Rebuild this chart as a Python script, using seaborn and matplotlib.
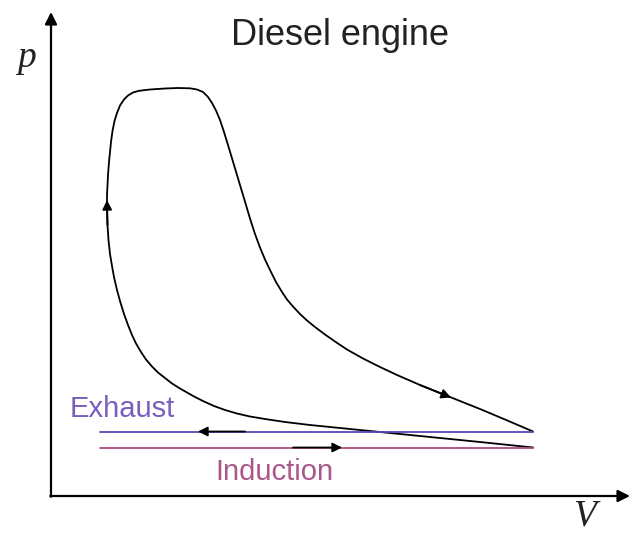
import matplotlib
matplotlib.use("Agg")
import matplotlib.pyplot as plt
import seaborn as sns
import pandas as pd

# cycle (arbitrary units), starting at the end of induction,
# compression up the left side, combustion across the top, expansion down the right
cycle_V = [48.2, 42.9, 37.9, 32.9, 28.9, 25.9, 23.4, 21.4, 19.9, 18.6, 17.4, 16.3, 15.3, 14.4,
           13.6, 12.9, 12.1, 11.4, 10.7, 10.1, 9.5, 9.0, 8.5, 8.1, 7.7, 7.3, 6.9, 6.6, 6.3,
           6.1, 5.9, 5.75, 5.65, 5.6, 5.6, 5.65, 5.7, 5.8, 5.9, 6.0, 6.15, 6.35, 6.6, 6.9,
           7.3, 7.7, 8.2, 8.8, 9.9, 11.4, 12.7, 13.9, 14.6, 15.2, 15.7, 16.1, 16.5, 16.9,
           17.3, 17.7, 18.3, 18.9, 19.5, 19.9, 20.4, 20.9, 21.4, 21.9, 22.5, 23.1, 23.6,
           24.2, 24.9, 25.6, 26.4, 27.4, 28.4, 29.6, 31.2, 32.9, 34.6, 36.9, 39.4, 42.9,
           45.4, 48.2]
cycle_p = [4.85, 5.4, 5.9, 6.4, 6.8, 7.1, 7.4, 7.7, 7.95, 8.25, 8.6, 9.0, 9.45, 9.9, 10.35,
           10.75, 11.25, 11.8, 12.35, 12.95, 13.65, 14.4, 15.25, 16.1, 17.1, 18.2, 19.5,
           20.6, 21.9, 23.0, 24.2, 25.6, 27.1, 28.6, 30.1, 31.1, 32.1, 33.4, 34.4, 35.4,
           36.5, 37.5, 38.3, 39.05, 39.65, 40.05, 40.35, 40.52, 40.65, 40.75, 40.8, 40.77,
           40.65, 40.4, 39.9, 39.3, 38.55, 37.6, 36.4, 35.1, 33.1, 31.1, 29.1, 27.75, 26.2,
           24.85, 23.65, 22.6, 21.4, 20.4, 19.65, 18.95, 18.2, 17.55, 16.9, 16.15, 15.45,
           14.65, 13.75, 12.9, 12.1, 11.1, 10.1, 8.7, 7.65, 6.45]

exhaust_V = [4.9, 48.2]
exhaust_p = [6.45, 6.45]
induction_V = [4.9, 48.2]
induction_p = [4.85, 4.85]

exhaust_line = "#5b47b8"
exhaust_text = "#7a5fbf"
induction_line = "#b04a7e"
induction_text = "#a9578a"

sns.set_theme(style="white")

fig = plt.figure(figsize=(6.38, 5.34), dpi=100)
ax = fig.add_axes([0, 0, 1, 1])

cycle = pd.DataFrame({"V": cycle_V, "p": cycle_p})
sns.lineplot(data=cycle, x="V", y="p", sort=False, estimator=None, color="black", lw=1.3, ax=ax)
sns.lineplot(x=exhaust_V, y=exhaust_p, color=exhaust_line, lw=1.3, ax=ax)
sns.lineplot(x=induction_V, y=induction_p, color=induction_line, lw=1.3, ax=ax)

arrow = dict(arrowstyle="-|>", color="black", lw=1.3, mutation_scale=14, shrinkA=0, shrinkB=0)
# direction arrows on the cycle
ax.annotate("", xy=(5.6, 29.6), xytext=(5.65, 27.1), arrowprops=arrow)
ax.annotate("", xy=(40.0, 9.85), xytext=(36.9, 11.1), arrowprops=arrow)
ax.annotate("", xy=(14.7, exhaust_p[0]), xytext=(19.4, exhaust_p[0]), arrowprops=arrow)
ax.annotate("", xy=(29.1, induction_p[0]), xytext=(24.2, induction_p[0]), arrowprops=arrow)

# axes with arrow heads
axis_arrow = dict(arrowstyle="-|>", color="black", lw=1.6, mutation_scale=18, shrinkA=0, shrinkB=0)
ax.annotate("", xy=(57.9, 0), xytext=(-0.08, 0), arrowprops=axis_arrow)
ax.annotate("", xy=(0, 48.4), xytext=(0, -0.08), arrowprops=axis_arrow)

ax.text(28.9, 45.1, "Diesel engine", ha="center", va="baseline", fontsize=26,
        family="Liberation Sans", color="#222222")
ax.text(1.9, 7.9, "Exhaust", ha="left", va="baseline", fontsize=21,
        family="Liberation Sans", color=exhaust_text)
ax.text(16.4, 1.6, "Induction", ha="left", va="baseline", fontsize=21,
        family="Liberation Sans", color=induction_text)
ax.text(-2.4, 42.9, "p", ha="center", va="baseline", fontsize=27,
        family="Liberation Serif", style="italic", color="#222222")
ax.text(53.3, -3.75, "V", ha="center", va="bottom", fontsize=27,
        family="Liberation Serif", style="italic", color="#222222")

ax.set_xlim(-5.1, 58.7)
ax.set_ylim(-3.8, 49.6)
ax.set_axis_off()

fig.savefig("out.png", dpi=100)
